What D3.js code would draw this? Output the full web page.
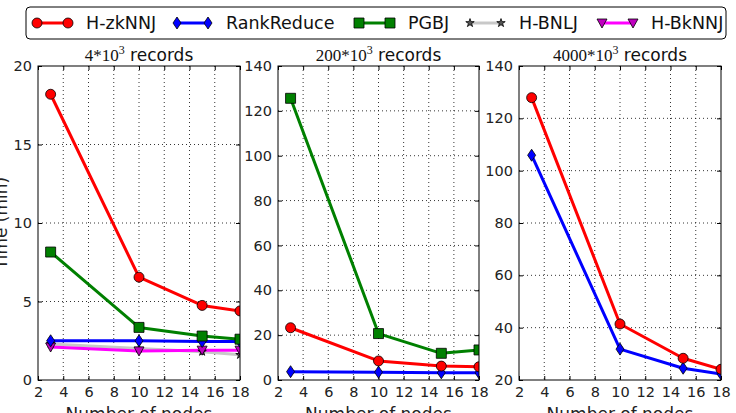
<!DOCTYPE html>
<html>
<head>
<meta charset="utf-8">
<script src="https://cdn.jsdelivr.net/npm/d3@7"></script>
<style>
  body { margin: 0; background: #fff; }
  svg { display: block; font-family: "DejaVu Sans", sans-serif; }
</style>
</head>
<body>
<div id="chart"></div>
<script>
// x positions (number of nodes)
const nodes = [3, 10, 15, 18];
const xTicks = [2, 4, 6, 8, 10, 12, 14, 16, 18];

// 4*10^3 records
const zk4 = [18.2, 6.55, 4.75, 4.4];
const rank4 = [2.5, 2.5, 2.45, 2.45];
const pgbj4 = [8.15, 3.35, 2.8, 2.6];
const bnlj4 = [2.3, 2.0, 1.8, 1.6];
const bknnj4 = [2.1, 1.85, 1.9, 1.9];
const yTicks4 = [0, 5, 10, 15, 20];

// 200*10^3 records
const zk200 = [23.3, 8.5, 6.2, 5.9];
const rank200 = [3.7, 3.5, 3.2, 3.2];
const pgbj200 = [125.6, 20.7, 11.9, 13.4];
const yTicks200 = [0, 20, 40, 60, 80, 100, 120, 140];

// 4000*10^3 records
const zk4000 = [127.9, 41.4, 28.3, 24.1];
const rank4000 = [105.9, 31.8, 24.5, 22.3];
const yTicks4000 = [20, 40, 60, 80, 100, 120, 140];

const seriesNames = ['H-zkNNJ', 'RankReduce', 'PGBJ', 'H-BNLJ', 'H-BkNNJ'];

const styles = {
  'H-zkNNJ':   { color: '#ff0000', marker: 'circle',   fill: '#ff0000' },
  'RankReduce':{ color: '#0000ff', marker: 'diamond',  fill: '#0000ff' },
  'PGBJ':      { color: '#008000', marker: 'square',   fill: '#008000' },
  'H-BNLJ':    { color: '#c8c8c8', marker: 'star',     fill: '#555555' },
  'H-BkNNJ':   { color: '#ff00ff', marker: 'triangle', fill: '#bf00bf' }
};

const W = 736, H = 413;
const plotTop = 66, plotBottom = 380;

const svg = d3.select('#chart').append('svg')
  .attr('width', W).attr('height', H);

function drawMarker(g, kind, x, y, fill) {
  if (kind === 'circle') {
    g.append('circle').attr('cx', x).attr('cy', y).attr('r', 5)
      .attr('fill', fill).attr('stroke', '#000').attr('stroke-width', 0.8);
    return;
  }
  const s = g.append('path').attr('fill', fill).attr('stroke', '#000').attr('stroke-width', 0.8);
  if (kind === 'square') {
    s.attr('d', `M${x - 5},${y - 5}h10v10h-10z`);
  } else if (kind === 'diamond') {
    s.attr('d', `M${x},${y - 6}L${x + 4},${y}L${x},${y + 6}L${x - 4},${y}z`);
  } else if (kind === 'triangle') {
    s.attr('d', `M${x - 5},${y - 4}L${x + 5},${y - 4}L${x},${y + 5}z`);
  } else if (kind === 'star') {
    s.attr('d', d3.symbol(d3.symbolStar, 22)()).attr('transform', `translate(${x},${y})`)
      .attr('stroke-width', 0.8);
  }
}

function panel(opts) {
  const { x0, x1, domain, ticks, title, mant, lines, id } = opts;
  const x = d3.scaleLinear().domain([2, 18]).range([x0, x1]);
  const y = d3.scaleLinear().domain(domain).range([plotBottom, plotTop]);
  const g = svg.append('g');

  g.append('clipPath').attr('id', id)
    .append('rect').attr('x', x0).attr('y', plotTop).attr('width', x1 - x0).attr('height', plotBottom - plotTop);

  // grid
  const grid = g.append('g').attr('stroke', '#000').attr('stroke-width', 0.8)
    .attr('stroke-dasharray', '1,3');
  xTicks.slice(1, -1).forEach(t => {
    grid.append('line').attr('x1', x(t)).attr('x2', x(t)).attr('y1', plotTop).attr('y2', plotBottom);
  });
  ticks.slice(1, -1).forEach(t => {
    grid.append('line').attr('x1', x0).attr('x2', x1).attr('y1', y(t)).attr('y2', y(t));
  });

  // axes (ticks inside, on all sides)
  const axB = g.append('g').attr('transform', `translate(0,${plotBottom})`)
    .call(d3.axisBottom(x).tickValues(xTicks).tickSize(-4).tickPadding(7));
  const axT = g.append('g').attr('transform', `translate(0,${plotTop})`)
    .call(d3.axisTop(x).tickValues(xTicks).tickSize(-4).tickFormat(''));
  const axL = g.append('g').attr('transform', `translate(${x0},0)`)
    .call(d3.axisLeft(y).tickValues(ticks).tickSize(-4).tickPadding(6));
  const axR = g.append('g').attr('transform', `translate(${x1},0)`)
    .call(d3.axisRight(y).tickValues(ticks).tickSize(-4).tickFormat(''));
  [axB, axT, axL, axR].forEach(a => {
    a.select('.domain').remove();
    a.selectAll('text').attr('font-size', 14.5).attr('fill', '#222')
      .attr('font-family', '"DejaVu Sans", sans-serif');
  });

  // series
  const line = d3.line().x((d, i) => x(nodes[i])).y(d => y(d));
  const plot = g.append('g').attr('clip-path', `url(#${id})`);
  lines.forEach(([name, vals]) => {
    const st = styles[name];
    plot.append('path').attr('d', line(vals)).attr('fill', 'none')
      .attr('stroke', st.color).attr('stroke-width', 3).attr('stroke-linejoin', 'round');
  });
  lines.forEach(([name, vals]) => {
    const st = styles[name];
    vals.forEach((v, i) => drawMarker(plot, st.marker, x(nodes[i]), y(v), st.fill));
  });

  g.append('rect').attr('x', x0).attr('y', plotTop).attr('width', x1 - x0).attr('height', plotBottom - plotTop)
    .attr('fill', 'none').attr('stroke', '#000').attr('stroke-width', 1);

  // title
  const t = g.append('text').attr('x', (x0 + x1) / 2).attr('y', 61)
    .attr('text-anchor', 'middle').attr('font-size', 17).attr('fill', '#111');
  t.append('tspan').attr('font-family', '"Liberation Serif", serif').text(mant + '*' + '10');
  t.append('tspan').attr('font-family', '"Liberation Serif", serif').attr('font-size', 12)
    .attr('dy', -7).text('3');
  t.append('tspan').attr('dy', 7).text(' ' + title);

  // x label (cut off at the bottom, as in the reference)
  g.append('text').attr('x', (x0 + x1) / 2).attr('y', 420).attr('text-anchor', 'middle')
    .attr('font-size', 17).attr('fill', '#222').text('Number of nodes');
}

panel({
  id: 'c1', x0: 38, x1: 240, domain: [0, 20], ticks: yTicks4, mant: '4', title: 'records',
  lines: [['H-BNLJ', bnlj4], ['H-BkNNJ', bknnj4], ['RankReduce', rank4], ['PGBJ', pgbj4], ['H-zkNNJ', zk4]]
});
panel({
  id: 'c2', x0: 278, x1: 479, domain: [0, 140], ticks: yTicks200, mant: '200', title: 'records',
  lines: [['RankReduce', rank200], ['PGBJ', pgbj200], ['H-zkNNJ', zk200]]
});
panel({
  id: 'c3', x0: 519, x1: 721, domain: [20, 140], ticks: yTicks4000, mant: '4000', title: 'records',
  lines: [['RankReduce', rank4000], ['H-zkNNJ', zk4000]]
});

// y label (cut off at the left edge)
svg.append('text').attr('transform', `translate(7,${(plotTop + plotBottom) / 2}) rotate(-90)`)
  .attr('text-anchor', 'middle').attr('font-size', 17).attr('fill', '#222').text('Time (min)');

// legend
const leg = svg.append('g');
leg.append('rect').attr('x', 26).attr('y', 7).attr('width', 700).attr('height', 32)
  .attr('rx', 4).attr('fill', '#fff').attr('stroke', '#000').attr('stroke-width', 1);
const legX = [37, 177, 359, 470, 602];
seriesNames.forEach((name, i) => {
  const st = styles[name];
  const lx = legX[i], ly = 23;
  leg.append('line').attr('x1', lx).attr('x2', lx + 31).attr('y1', ly).attr('y2', ly)
    .attr('stroke', st.color).attr('stroke-width', 3);
  drawMarker(leg, st.marker, lx, ly, st.fill);
  drawMarker(leg, st.marker, lx + 31, ly, st.fill);
  leg.append('text').attr('x', lx + 49).attr('y', ly + 6).attr('font-size', 17.5)
    .attr('fill', '#111').text(name);
});
</script>
</body>
</html>
